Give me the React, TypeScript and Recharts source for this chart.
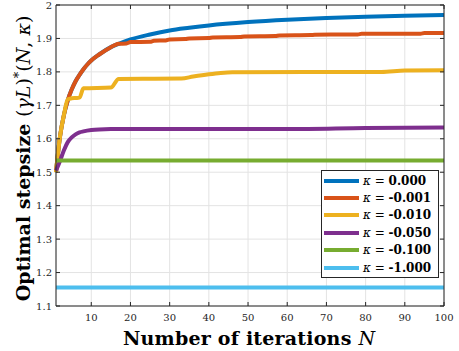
import { CartesianGrid, Label, Legend, Line, LineChart, ReferenceLine, XAxis, YAxis } from 'recharts'

const KAPPAS = ['0.000', '-0.001', '-0.010', '-0.050', '-0.100', '-1.000']
const COLORS = ['#0072BD', '#D95319', '#EDB120', '#7E2F8E', '#77AC30', '#4DBEEE']

const X_TICKS = [10, 20, 30, 40, 50, 60, 70, 80, 90, 100]
const Y_TICKS = [1.1, 1.2, 1.3, 1.4, 1.5, 1.6, 1.7, 1.8, 1.9, 2]

// iteration counts N and optimal stepsize for each kappa
const N_K0 = [1, 2, 3, 4, 5, 6, 7, 8, 9, 10, 12, 15, 17, 20, 25, 30, 35, 40, 50, 60, 70, 80, 90, 100]
const H_K0 = [1.5, 1.605, 1.67, 1.715, 1.747, 1.772, 1.791, 1.808, 1.822, 1.834, 1.852, 1.874, 1.884, 1.897, 1.912, 1.924, 1.932, 1.939, 1.949, 1.956, 1.961, 1.965, 1.968, 1.97]

const N_K1 = [1, 2, 3, 4, 5, 6, 7, 8, 9, 10, 12, 15, 16, 17, 19, 20, 25, 26, 29, 30, 34, 35, 40, 41, 48, 49, 57, 58, 66, 67, 78, 79, 94, 95, 100]
const H_K1 = [1.5, 1.605, 1.67, 1.715, 1.747, 1.772, 1.791, 1.808, 1.822, 1.834, 1.852, 1.874, 1.88, 1.884, 1.885, 1.889, 1.89, 1.893, 1.894, 1.897, 1.898, 1.9, 1.901, 1.903, 1.904, 1.906, 1.907, 1.909, 1.91, 1.911, 1.912, 1.914, 1.914, 1.916, 1.916]

const N_K2 = [1, 2, 3, 4, 5, 6, 7, 8, 15, 17, 33, 36, 40, 43, 46, 84, 90, 100]
const H_K2 = [1.5, 1.605, 1.67, 1.718, 1.721, 1.722, 1.723, 1.751, 1.753, 1.779, 1.78, 1.786, 1.793, 1.797, 1.799, 1.8, 1.804, 1.805]

const N_K3 = [1, 2, 3, 4, 5, 6, 7, 8, 10, 12, 15, 20, 60, 80, 100]
const H_K3 = [1.505, 1.533, 1.565, 1.59, 1.604, 1.613, 1.619, 1.622, 1.626, 1.628, 1.629, 1.629, 1.629, 1.632, 1.634]

const N_K4 = [1, 100]
const H_K4 = [1.535, 1.535]

const N_K5 = [1, 100]
const H_K5 = [1.155, 1.155]

const SERIES = [
  [N_K0, H_K0],
  [N_K1, H_K1],
  [N_K2, H_K2],
  [N_K3, H_K3],
  [N_K4, H_K4],
  [N_K5, H_K5],
].map(([ns, hs], i) => ({
  name: `κ = ${KAPPAS[i]}`,
  color: COLORS[i],
  data: ns.map((n, j) => ({ n, h: hs[j] })),
}))

const NAMES = SERIES.map((s) => s.name)

const AXIS = '#262626'
const SERIF = '"DejaVu Serif", serif'
const PLOT_TOP = 5
const PLOT_RIGHT = 444

function XTick({ x, y, payload }: any) {
  return (
    <g>
      <line x1={x} y1={y} x2={x} y2={y - 4} stroke={AXIS} />
      <line x1={x} y1={PLOT_TOP} x2={x} y2={PLOT_TOP + 4} stroke={AXIS} />
      <text x={x} y={y + 15} textAnchor="middle" fontFamily={SERIF} fontSize={10} fill={AXIS}>
        {payload.value}
      </text>
    </g>
  )
}

function YTick({ x, y, payload }: any) {
  return (
    <g>
      <line x1={x} y1={y} x2={x + 4} y2={y} stroke={AXIS} />
      <line x1={PLOT_RIGHT - 4} y1={y} x2={PLOT_RIGHT} y2={y} stroke={AXIS} />
      <text x={x - 4} y={y + 3.5} textAnchor="end" fontFamily={SERIF} fontSize={10} fill={AXIS}>
        {String(Number(payload.value.toFixed(1)))}
      </text>
    </g>
  )
}

function XTitle({ viewBox }: any) {
  const cx = viewBox.x + viewBox.width / 2 - 1
  return (
    <text x={cx} y={viewBox.y + 39} textAnchor="middle" textLength={252} fontFamily={SERIF} fontSize={19} fill="#000">
      <tspan fontWeight="bold">Number of iterations </tspan>
      <tspan fontStyle="italic">N</tspan>
    </text>
  )
}

// rotated title, centred on the plot height
function YTitle({ viewBox }: any) {
  const cy = viewBox.y + viewBox.height / 2 + 3
  return (
    <text
      transform={`translate(30,${cy}) rotate(-90)`}
      textAnchor="middle"
      fontFamily={SERIF}
      fontSize={19}
      fill="#000"
    >
      <tspan fontWeight="bold">Optimal stepsize </tspan>
      <tspan>(</tspan>
      <tspan fontStyle="italic">γL</tspan>
      <tspan>)</tspan>
      <tspan dy={-7} fontSize={13}>*</tspan>
      <tspan dy={7}>(</tspan>
      <tspan fontStyle="italic">N</tspan>
      <tspan>, </tspan>
      <tspan fontStyle="italic">κ</tspan>
      <tspan>)</tspan>
    </text>
  )
}

function LegendBox({ payload }: any) {
  const items = [...(payload ?? [])].sort((a, b) => NAMES.indexOf(a.value) - NAMES.indexOf(b.value))
  return (
    <div
      style={{
        boxSizing: 'border-box',
        width: 118,
        height: 108,
        border: `1px solid ${AXIS}`,
        background: '#fff',
        padding: '1px 0 0 2px',
      }}
    >
      {items.map((entry: any) => {
        const i = NAMES.indexOf(entry.value)
        return (
          <div key={entry.value} style={{ display: 'flex', alignItems: 'center', height: 17.4 }}>
            <span style={{ display: 'inline-block', width: 35, height: 4, background: entry.color, marginRight: 4 }} />
            <span style={{ fontFamily: SERIF, fontSize: 12, color: '#000', whiteSpace: 'nowrap' }}>
              <i>κ</i> = <b>{KAPPAS[i]}</b>
            </span>
          </div>
        )
      })}
    </div>
  )
}

export default function App() {
  return (
    <div style={{ position: 'absolute', left: 0, top: 0 }}>
      <LineChart width={459} height={351} margin={{ top: 5, right: 15, bottom: 0, left: 0 }}>
        <CartesianGrid stroke="#e3e3e3" />
        <XAxis
          dataKey="n"
          type="number"
          domain={[1, 100]}
          ticks={X_TICKS}
          height={45}
          tickSize={0}
          tickMargin={0}
          tickLine={false}
          axisLine={{ stroke: AXIS }}
          tick={<XTick />}
          interval={0}
        >
          <Label content={<XTitle />} />
        </XAxis>
        <YAxis
          type="number"
          domain={[1.1, 2]}
          ticks={Y_TICKS}
          width={56}
          tickSize={0}
          tickMargin={0}
          tickLine={false}
          axisLine={{ stroke: AXIS }}
          tick={<YTick />}
          interval={0}
        >
          <Label content={<YTitle />} />
        </YAxis>
        {SERIES.map((s) => (
          <Line
            key={s.name}
            data={s.data}
            dataKey="h"
            name={s.name}
            type="monotone"
            stroke={s.color}
            strokeWidth={4}
            dot={false}
            activeDot={false}
            isAnimationActive={false}
          />
        ))}
        <ReferenceLine y={2} stroke={AXIS} />
        <ReferenceLine x={100} stroke={AXIS} />
        <Legend
          layout="vertical"
          align="center"
          verticalAlign="middle"
          wrapperStyle={{ left: 321, top: 170, width: 118, height: 108 }}
          content={<LegendBox />}
        />
      </LineChart>
    </div>
  )
}
